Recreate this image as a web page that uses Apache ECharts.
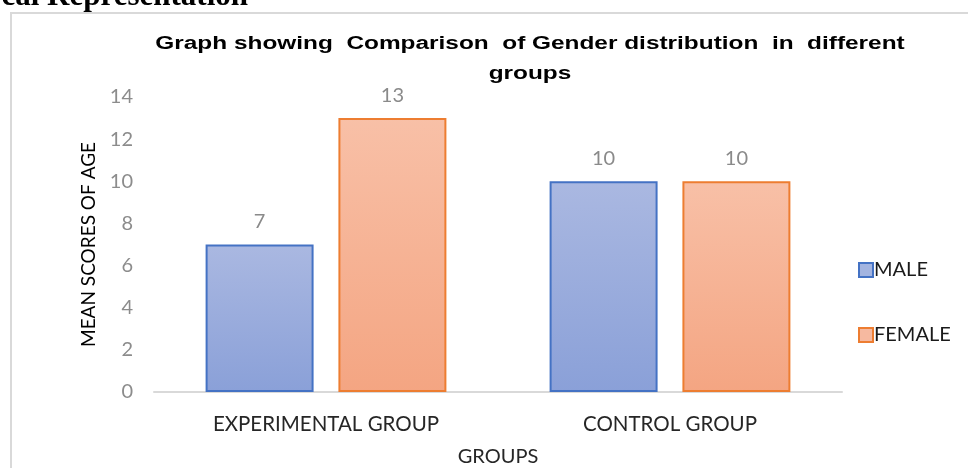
<!DOCTYPE html>
<html><head><meta charset="utf-8">
<script src="https://cdn.jsdelivr.net/npm/echarts@6/dist/echarts.min.js"></script>
<style>html,body{margin:0;padding:0;background:#fff}#c{width:968px;height:468px}</style>
</head><body><div id="c"></div>
<script>
var categories = ['EXPERIMENTAL GROUP', 'CONTROL GROUP'];
var maleValues = [7, 10];
var femaleValues = [13, 10];
var seriesNames = ['MALE', 'FEMALE'];
var titleLines = ['Graph showing  Comparison  of Gender distribution  in  different', 'groups'];

var chart = echarts.init(document.getElementById('c'), null, {renderer: 'canvas'});
var lbl = {show: true, position: 'top', distance: 13, color: '#8a8a8a', fontSize: 20, fontFamily: 'Lato'};
function grad(top, bottom) {
  return new echarts.graphic.LinearGradient(0, 0, 0, 1, [{offset: 0, color: top}, {offset: 1, color: bottom}]);
}
var titleFont = 'bold 18px "Liberation Sans"';
chart.setOption({
  animation: false,
  graphic: [
    {type: 'rect', shape: {x: 11, y: 13, width: 970, height: 470}, style: {fill: 'none', stroke: '#d9d9d9', lineWidth: 2}, z: -1},
    {type: 'text', x: 248, y: 12, style: {text: 'cal Representation', font: 'bold 31px "Liberation Serif"', fill: '#000', textAlign: 'right', textVerticalAlign: 'bottom'}},
    {type: 'text', x: 530, y: 44, scaleX: 1.355, style: {text: titleLines[0], font: titleFont, fill: '#000', textAlign: 'center', textVerticalAlign: 'middle'}},
    {type: 'text', x: 530, y: 74, scaleX: 1.355, style: {text: titleLines[1], font: titleFont, fill: '#000', textAlign: 'center', textVerticalAlign: 'middle'}}
  ],
  legend: {
    orient: 'vertical', left: 853, top: 255, itemGap: 45, itemWidth: 14, itemHeight: 14,
    textStyle: {fontFamily: 'Lato', fontSize: 20, lineHeight: 20, color: '#1a1a1a', padding: [0, 0, 0, -4]},
    data: [
      {name: seriesNames[0], icon: 'rect', itemStyle: {color: '#a3b4e0', borderColor: '#4472c4', borderWidth: 2}},
      {name: seriesNames[1], icon: 'rect', itemStyle: {color: '#f6b9a0', borderColor: '#ed7d31', borderWidth: 2}}
    ]
  },
  grid: {left: 154, right: 126, top: 97, bottom: 76, containLabel: false, outerBoundsMode: 'none'},
  xAxis: {
    type: 'category', data: categories,
    name: 'GROUPS', nameLocation: 'middle', nameGap: 55,
    nameTextStyle: {fontFamily: 'Lato', fontSize: 20, color: '#262626'},
    axisLine: {lineStyle: {color: '#d9d9d9', width: 2}},
    axisTick: {show: false},
    axisLabel: {fontFamily: 'Lato', fontSize: 20.5, color: '#262626', margin: 22}
  },
  yAxis: {
    type: 'value', min: 0, max: 14, interval: 2,
    name: 'MEAN SCORES OF AGE', nameLocation: 'middle', nameGap: 56, nameRotate: 90,
    nameTextStyle: {fontFamily: 'Lato', fontSize: 19, color: '#000'},
    axisLine: {show: false}, axisTick: {show: false}, splitLine: {show: false},
    axisLabel: {fontFamily: 'Lato', fontSize: 20, color: '#8c8c8c', margin: 21}
  },
  series: [
    {name: seriesNames[0], type: 'bar', data: maleValues, barGap: '23%', barCategoryGap: '30%',
     itemStyle: {color: grad('#aab8e1', '#8aa0d8'), borderColor: '#4472c4', borderWidth: 2}, label: lbl},
    {name: seriesNames[1], type: 'bar', data: femaleValues,
     itemStyle: {color: grad('#f8c0a7', '#f4a582'), borderColor: '#ed7d31', borderWidth: 2}, label: lbl}
  ]
});
</script></body></html>
